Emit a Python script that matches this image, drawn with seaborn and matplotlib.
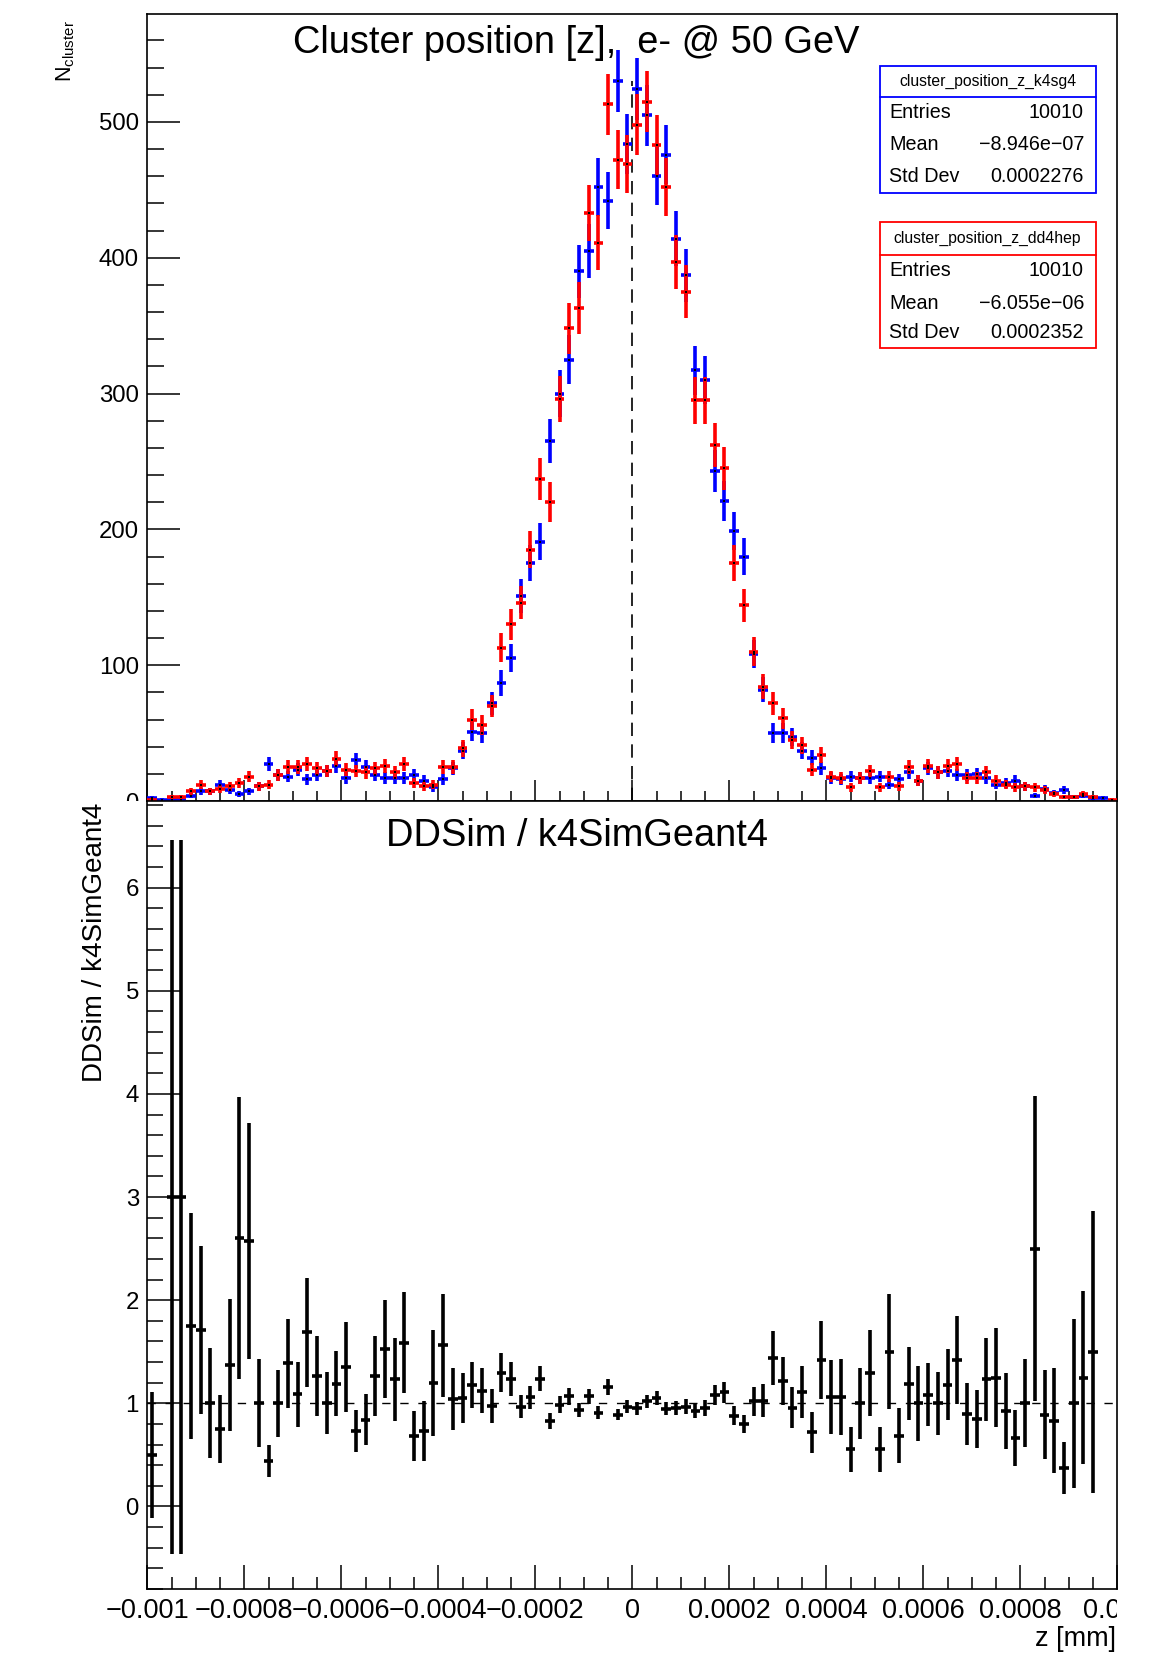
import numpy as np
import pandas as pd
import matplotlib
matplotlib.use("Agg")
import matplotlib.pyplot as plt
import seaborn as sns
from matplotlib.transforms import Bbox, TransformedBbox
from matplotlib.patches import Rectangle
from matplotlib.lines import Line2D
from matplotlib.ticker import MultipleLocator

# ---------------- data ----------------
x_min, x_max, n_bins = -0.001, 0.001, 100

counts_k4sg4 = [2, 1, 1, 1, 4, 7, 7, 12, 8, 5,
                7, 11, 27, 19, 18, 23, 16, 19, 22, 26,
                17, 30, 25, 19, 17, 17, 17, 19, 15, 10,
                16, 24, 37, 51, 50, 72, 87, 105, 151, 175,
                191, 265, 300, 325, 390, 405, 452, 442, 530, 484,
                524, 505, 460, 476, 414, 387, 317, 310, 243, 221,
                199, 180, 108, 82, 50, 50, 47, 37, 32, 24,
                17, 16, 18, 17, 17, 18, 12, 16, 21, 15,
                24, 21, 22, 19, 19, 20, 17, 12, 13, 15,
                11, 4, 9, 6, 8, 3, 4, 2, 2, 0]

counts_dd4hep = [1, 0, 3, 3, 7, 12, 7, 9, 11, 13,
                 18, 11, 12, 19, 25, 25, 27, 24, 22, 31,
                 23, 22, 21, 24, 26, 21, 27, 13, 11, 12,
                 25, 25, 39, 60, 56, 70, 113, 130, 146, 185,
                 237, 220, 296, 348, 363, 433, 411, 513, 472, 469,
                 498, 515, 483, 452, 397, 375, 295, 295, 262, 245,
                 175, 144, 110, 84, 72, 61, 45, 41, 23, 34,
                 18, 17, 10, 17, 22, 10, 18, 11, 25, 15,
                 26, 21, 26, 27, 17, 17, 21, 15, 12, 10,
                 11, 10, 8, 5, 3, 3, 5, 3, 0, 1]

title_top = "Cluster position [z],  e- @ 50 GeV"
title_bottom = "DDSim / k4SimGeant4"
stats_k4sg4 = ["cluster_position_z_k4sg4", "10010", "\u22128.946e\u221207", "0.0002276"]
stats_dd4hep = ["cluster_position_z_dd4hep", "10010", "\u22126.055e\u221206", "0.0002352"]
xtick_values = [-0.001, -0.0008, -0.0006, -0.0004, -0.0002, 0.0, 0.0002, 0.0004, 0.0006, 0.0008, 0.001]
xtick_labels = ["\u22120.001", "\u22120.0008", "\u22120.0006", "\u22120.0004", "\u22120.0002", "0",
                "0.0002", "0.0004", "0.0006", "0.0008", "0.001"]
ytick_top = [0, 100, 200, 300, 400, 500]
ytick_bottom = [0, 1, 2, 3, 4, 5, 6]

# ---------------- derived quantities ----------------
edges = np.linspace(x_min, x_max, n_bins + 1)
centers = 0.5 * (edges[:-1] + edges[1:])
half_w = 0.5 * (edges[1] - edges[0])
b = np.array(counts_k4sg4, dtype=float)
r = np.array(counts_dd4hep, dtype=float)
df = pd.DataFrame({"z": centers, "k4sg4": b, "dd4hep": r})
ok = (b > 0) & (r > 0)
df_ratio = pd.DataFrame({"z": centers[ok], "ratio": r[ok] / b[ok],
                         "err": (r[ok] / b[ok]) * np.sqrt(1 / r[ok] + 1 / b[ok])})

# ---------------- style ----------------
sns.set_theme(style="ticks")
plt.rcParams['font.family'] = ['Liberation Sans', 'DejaVu Sans']
plt.rcParams['mathtext.fontset'] = 'custom'
plt.rcParams['mathtext.rm'] = 'Liberation Sans'
plt.rcParams['mathtext.it'] = 'Liberation Sans'

W, H = 1157, 1657
fig = plt.figure(figsize=(W / 100, H / 100), dpi=100)
fig.patch.set_facecolor("white")

def fx(px):
    return px / W

def fy(py):
    return 1 - py / H

L, R = 147.3, 1117.3
T1, B1 = 14, 801
T2, B2 = 801, 1589
ax_top = fig.add_axes([fx(L), fy(B1), fx(R) - fx(L), fy(T1) - fy(B1)])
ax_bot = fig.add_axes([fx(L), fy(B2), fx(R) - fx(L), fy(T2) - fy(B2)])
for ax in (ax_top, ax_bot):
    ax.set_facecolor("white")
    for s in ax.spines.values():
        s.set_color("black")
        s.set_linewidth(1.2)

LW = 2.6
# ---------------- top panel ----------------
for col, color in (("k4sg4", "#0000ff"), ("dd4hep", "#ff0000")):
    d = df[df[col] > 0]
    ax_top.errorbar(d["z"], d[col], yerr=np.sqrt(d[col]), xerr=half_w, fmt="none",
                    ecolor=color, elinewidth=LW, capsize=0, zorder=3)
    sns.scatterplot(data=d, x="z", y=col, color="black", s=3, marker="s",
                    linewidth=0, ax=ax_top, zorder=4, legend=False)

ax_top.axvline(0, ymin=0, ymax=max(counts_k4sg4) / 579.5, color="black", lw=1.2,
               linestyle=(0, (8, 5)), zorder=2)
ax_top.set_xlim(x_min, x_max)
ax_top.set_ylim(0, 579.5)
ax_top.xaxis.set_major_locator(MultipleLocator(0.0002))
ax_top.xaxis.set_minor_locator(MultipleLocator(0.00005))
ax_top.set_yticks(ytick_top)
ax_top.set_yticklabels([str(v) for v in ytick_top])
ax_top.yaxis.set_minor_locator(MultipleLocator(20))
ax_top.tick_params(axis="x", which="major", direction="in", length=15, width=1.1,
                   labelbottom=False, top=False, color="black")
ax_top.tick_params(axis="x", which="minor", direction="in", length=7.5, width=1.1,
                   top=False, color="black")
ax_top.tick_params(axis="y", which="major", direction="in", length=24, width=1.1,
                   right=False, labelsize=17.3, pad=6, color="black", labelcolor="black")
ax_top.tick_params(axis="y", which="minor", direction="in", length=12, width=1.1,
                   right=False, color="black")
ax_top.set_xlabel("")
ax_top.set_ylabel("")
clip_top = TransformedBbox(Bbox([[-1, 0], [2, 2]]), ax_top.transAxes)
for lab in ax_top.get_yticklabels():
    lab.set_clip_box(clip_top)
    lab.set_clip_on(True)

# ---------------- bottom panel ----------------
ax_bot.errorbar(df_ratio["z"], df_ratio["ratio"], yerr=df_ratio["err"], xerr=half_w,
                fmt="none", ecolor="black", elinewidth=LW, capsize=0, zorder=3)
sns.scatterplot(data=df_ratio, x="z", y="ratio", color="black", s=3, marker="s",
                linewidth=0, ax=ax_bot, zorder=4, legend=False)
ax_bot.axhline(1.0, color="black", lw=1.0, linestyle=(0, (6, 7)), zorder=2)
ax_bot.set_xlim(x_min, x_max)
ax_bot.set_ylim(-0.80, 6.84)
ax_bot.set_xticks(xtick_values)
ax_bot.set_xticklabels(xtick_labels)
ax_bot.xaxis.set_minor_locator(MultipleLocator(0.00005))
ax_bot.set_yticks(ytick_bottom)
ax_bot.set_yticklabels([str(v) for v in ytick_bottom])
ax_bot.yaxis.set_minor_locator(MultipleLocator(0.2))
ax_bot.tick_params(axis="x", which="major", direction="in", length=17, width=1.1,
                   top=False, labelsize=19.5, pad=6.8, color="black", labelcolor="black")
ax_bot.tick_params(axis="x", which="minor", direction="in", length=9, width=1.1,
                   top=False, color="black")
ax_bot.tick_params(axis="y", which="major", direction="in", length=24, width=1.1,
                   right=False, labelsize=17.3, pad=6, color="black", labelcolor="black")
ax_bot.tick_params(axis="y", which="minor", direction="in", length=11.5, width=1.1,
                   right=False, color="black")
ax_bot.set_xlabel("")
ax_bot.set_ylabel("")
clip_bot = TransformedBbox(Bbox([[-1, -1], [1, 2]]), ax_bot.transAxes)
for lab in ax_bot.get_xticklabels():
    lab.set_clip_box(clip_bot)
    lab.set_clip_on(True)

# ---------------- texts ----------------
fig.text(fx(576.5), fy(53), title_top, ha="center", va="baseline", fontsize=27.4, color="black")
fig.text(fx(576.5), fy(846), title_bottom, ha="center", va="baseline", fontsize=27.4, color="black")
fig.text(fx(1116), fy(1646), "z [mm]", ha="right", va="baseline", fontsize=19.5, color="black")
fig.text(fx(95), fy(803), title_bottom, ha="center", va="top", rotation=90,
         fontsize=20, color="black")
fig.text(fx(66), fy(20), r"N$_{\mathrm{cluster}}$", ha="center", va="top", rotation=90,
         fontsize=15.5, color="black")

# ---------------- stats boxes ----------------
def stats_box(top, sep, bottom, rows_y, color, values):
    x0, x1 = 879.5, 1095.5
    fig.add_artist(Rectangle((fx(x0), fy(bottom)), fx(x1) - fx(x0), fy(top) - fy(bottom),
                             transform=fig.transFigure, facecolor="white", edgecolor=color,
                             linewidth=1.3, zorder=5))
    fig.add_artist(Line2D([fx(x0), fx(x1)], [fy(sep), fy(sep)], transform=fig.transFigure,
                          color=color, linewidth=1.3, zorder=6))
    fig.text(fx((x0 + x1) / 2), fy((top + sep) / 2), values[0], ha="center", va="center",
             fontsize=11.3, color="black", zorder=7)
    for name, val, yy in zip(["Entries", "Mean", "Std Dev"], values[1:], rows_y):
        fig.text(fx(889), fy(yy), name, ha="left", va="center", fontsize=14.2,
                 color="black", zorder=7)
        fig.text(fx(1084), fy(yy), val, ha="right", va="center", fontsize=14.2,
                 color="black", zorder=7)

stats_box(66, 96.7, 192.7, [112.7, 145, 176.7], "#0000ff", stats_k4sg4)
stats_box(222.3, 255, 348.3, [270.7, 303.3, 332.7], "#ff0000", stats_dd4hep)

fig.savefig("out.png", dpi=100, facecolor="white")
